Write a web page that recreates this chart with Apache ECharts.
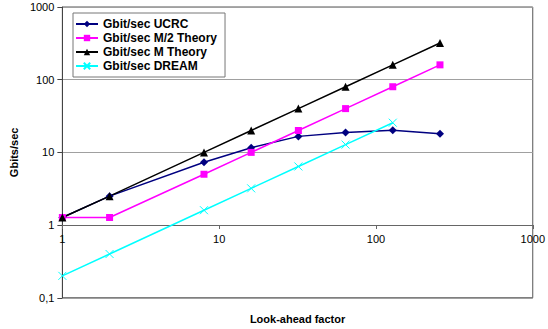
<!DOCTYPE html>
<html>
<head>
<meta charset="utf-8">
<script src="https://cdn.jsdelivr.net/npm/echarts@6/dist/echarts.min.js"></script>
<style>
  html, body { margin: 0; padding: 0; background: #fff; }
  #main { width: 548px; height: 329px; }
</style>
</head>
<body>
<div id="main"></div>
<script>
// look-ahead factors (x)
var lookAhead = [1, 2, 8, 16, 32, 64, 128, 256];
var lookAheadDream = [1, 2, 8, 16, 32, 64, 128];

// throughput in Gbit/sec (y)
var ucrc = [1.27, 2.5, 7.3, 11.6, 16.6, 18.7, 20.2, 18];
var mHalfTheory = [1.27, 1.27, 5, 10, 20, 40, 80, 160];
var mTheory = [1.27, 2.5, 10, 20, 40, 80, 160, 320];
var dream = [0.2, 0.4, 1.6, 3.2, 6.4, 12.8, 25.6];

var seriesNames = ['Gbit/sec UCRC', 'Gbit/sec M/2 Theory', 'Gbit/sec M Theory', 'Gbit/sec DREAM'];

function pairs(xs, ys) {
    return xs.map(function (x, i) { return [x, ys[i]]; });
}

// decimal comma like the original
function fmt(v) {
    return String(Number(v.toPrecision(3))).replace('.', ',');
}

var gridTop = 7, gridBottom = 31, chartH = 329;
var decade = (chartH - gridTop - gridBottom) / 4; // y spans 0.1..1000

var font = 'Liberation Sans, Arial, sans-serif';

var chartDom = document.getElementById('main');
var myChart = echarts.init(chartDom, null, { renderer: 'svg' });
var option;
option = {
    animation: false,
    textStyle: { fontFamily: font },
    grid: {
        left: 61, right: 13, top: gridTop, bottom: gridBottom,
        show: true, borderColor: '#555', borderWidth: 1
    },
    legend: {
        orient: 'vertical',
        left: 73, top: 13,
        padding: [5, 8, 5, 2],
        itemGap: 2,
        itemWidth: 22,
        itemHeight: 8,
        backgroundColor: '#fff',
        borderColor: '#777',
        borderWidth: 1,
        borderRadius: 0,
        textStyle: { fontFamily: font, fontSize: 12, fontWeight: 'bold', color: '#000' },
        data: seriesNames
    },
    xAxis: {
        type: 'log', logBase: 10, min: 1, max: 1000,
        offset: -decade,
        name: 'Look-ahead factor',
        nameLocation: 'middle',
        nameGap: 88,
        nameTextStyle: { fontFamily: font, fontSize: 11, fontWeight: 'bold', color: '#000' },
        axisLine: { show: true, lineStyle: { color: '#666', width: 1 } },
        axisTick: { show: true, length: 4, lineStyle: { color: '#666' } },
        minorTick: { show: false },
        axisLabel: { fontFamily: font, fontSize: 11, color: '#000', margin: 8, formatter: fmt },
        splitLine: { show: false }
    },
    yAxis: {
        type: 'log', logBase: 10, min: 0.1, max: 1000,
        name: 'Gbits/sec',
        nameLocation: 'middle',
        nameGap: 38,
        nameRotate: 90,
        nameTextStyle: { fontFamily: font, fontSize: 11, fontWeight: 'bold', color: '#000' },
        axisLine: { show: true, lineStyle: { color: '#444', width: 1 } },
        axisTick: { show: true, length: 5, lineStyle: { color: '#444' } },
        axisLabel: { fontFamily: font, fontSize: 11, color: '#000', margin: 8, formatter: fmt },
        splitLine: { show: true, lineStyle: { color: '#a0a0a0', width: 1 } }
    },
    series: [
        {
            name: seriesNames[0], type: 'line',
            data: pairs(lookAhead, ucrc),
            symbol: 'diamond', symbolSize: 8,
            lineStyle: { color: '#000080', width: 1.5 },
            itemStyle: { color: '#000080' }
        },
        {
            name: seriesNames[1], type: 'line',
            data: pairs(lookAhead, mHalfTheory),
            symbol: 'rect', symbolSize: 7,
            lineStyle: { color: '#ff00ff', width: 1.5 },
            itemStyle: { color: '#ff00ff' }
        },
        {
            name: seriesNames[2], type: 'line',
            data: pairs(lookAhead, mTheory),
            symbol: 'triangle', symbolSize: 8,
            lineStyle: { color: '#000000', width: 1.5 },
            itemStyle: { color: '#000000' }
        },
        {
            name: seriesNames[3], type: 'line',
            data: pairs(lookAheadDream, dream),
            symbol: 'path://M0,0L10,10M10,0L0,10', symbolSize: 8,
            lineStyle: { color: '#00ffff', width: 1.5 },
            itemStyle: { color: '#00ffff', borderColor: '#00ffff', borderWidth: 1 }
        }
    ]
};
option && myChart.setOption(option);
</script>
</body>
</html>
